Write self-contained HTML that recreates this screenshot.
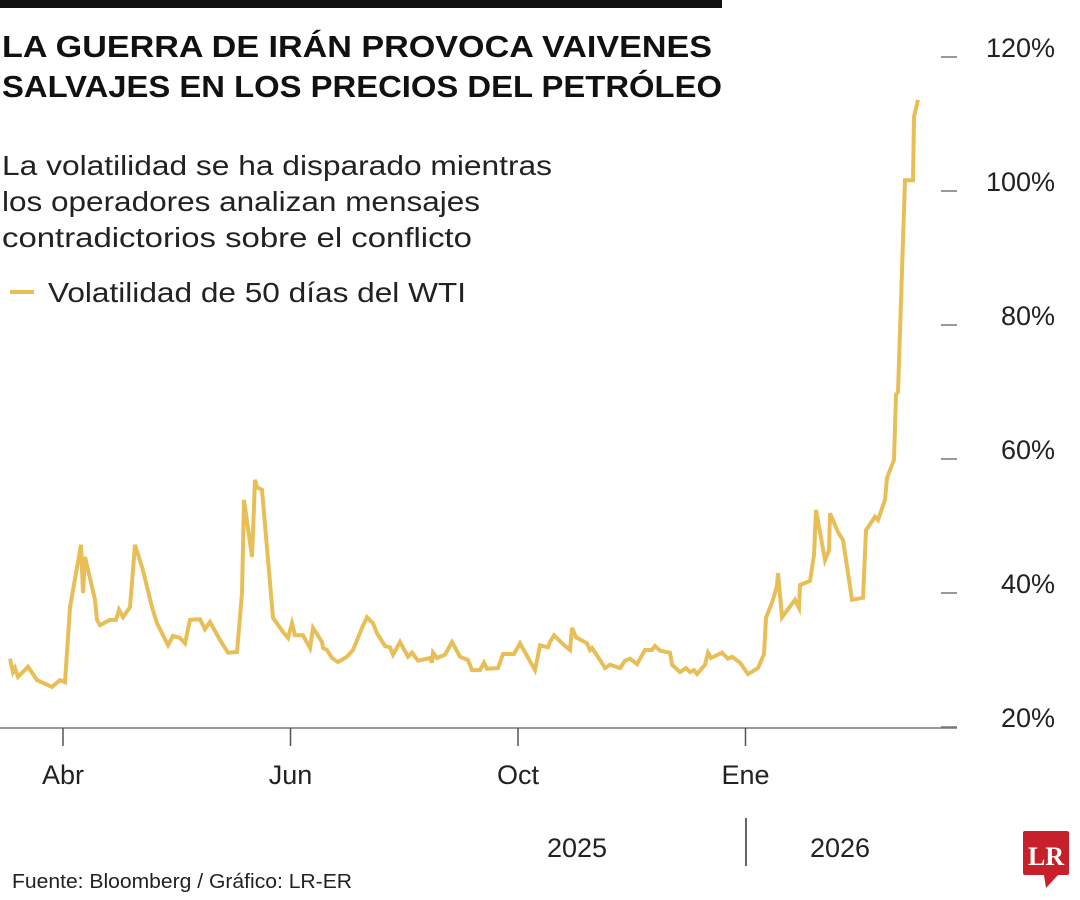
<!DOCTYPE html>
<html><head><meta charset="utf-8"><style>
html,body{margin:0;padding:0;background:#fff;}
svg{display:block;font-family:"Liberation Sans",sans-serif;}
</style></head><body>
<svg id="chart" width="1080" height="900" viewBox="0 0 1080 900" xmlns="http://www.w3.org/2000/svg">
<rect x="0" y="0" width="722" height="8" fill="#111"/>
<text font-weight="bold" font-size="31" fill="#111">
<tspan x="2" y="57" textLength="710" lengthAdjust="spacingAndGlyphs">LA GUERRA DE IRÁN PROVOCA VAIVENES</tspan>
<tspan x="2" y="97" textLength="720" lengthAdjust="spacingAndGlyphs">SALVAJES EN LOS PRECIOS DEL PETRÓLEO</tspan></text>
<text font-size="28" fill="#222">
<tspan x="2" y="175" textLength="550" lengthAdjust="spacingAndGlyphs">La volatilidad se ha disparado mientras</tspan>
<tspan x="2" y="211" textLength="478" lengthAdjust="spacingAndGlyphs">los operadores analizan mensajes</tspan>
<tspan x="2" y="247" textLength="470" lengthAdjust="spacingAndGlyphs">contradictorios sobre el conflicto</tspan></text>
<g>
<line x1="10" y1="292" x2="34" y2="292" stroke="#e8bf57" stroke-width="4"/>
<text x="48" y="302" font-size="28" fill="#222" textLength="418" lengthAdjust="spacingAndGlyphs">Volatilidad de 50 días del WTI</text></g>
<g id="yaxis"></g>
<g id="xaxis"></g>
<path id="line" fill="none" stroke="#e8bf57" stroke-width="4" stroke-linejoin="miter"/>
<g>
<text x="577" y="857" font-size="27" text-anchor="middle" fill="#222">2025</text>
<line x1="746" y1="818" x2="746" y2="866" stroke="#333" stroke-width="1.5"/>
<text x="840" y="857" font-size="27" text-anchor="middle" fill="#222">2026</text></g>
<text x="12" y="888" font-size="20" fill="#222" textLength="340" lengthAdjust="spacingAndGlyphs">Fuente: Bloomberg / Gráfico: LR-ER</text>
<g>
<rect x="1023" y="831" width="46" height="44" rx="2" fill="#c8202a"/>
<polygon points="1044,875 1058,875 1046,888" fill="#c8202a"/>
<text x="1046" y="865" font-family="Liberation Serif,serif" font-weight="bold" font-size="26" fill="#fff" text-anchor="middle">LR</text></g>
</svg>
<script>
const days=[-21.2,-20,-19.2,-18,-14,-10.4,-4.4,-1.2,0.8,2.8,7.2,8,8.8,12.8,13.6,14.8,18.8,21.2,22.4,24,26.8,28.8,32,35.6,37.6,42,44,46.8,48.8,50.8,54.8,56.8,58.8,62.8,66,69.6,71.6,72.4,75.6,76.8,77.6,79.6,84,88,90,91.6,92.8,96,98.8,100,103.6,104,105.6,107.6,110,113.6,116,119.6,121.6,124,125.6,128.8,130.8,132,134.8,138,139.6,142,146.8,147.6,148,149.6,152.8,155.6,158.8,162,163.6,166.8,168.4,169.6,174,176,180.4,182.8,188.8,190.8,194,194.8,196.4,200.8,202.8,203.6,205.2,209.6,210.8,211.6,214.8,216.8,218.8,222.8,224.8,226.8,229.6,232.8,235.6,236.8,238.8,242.8,243.6,246.8,249.2,250.8,252.4,253.6,256.8,258,259.2,263.6,266,267.6,270.8,274,278,280.4,281.2,284,285.6,286,287.6,292.8,294.4,294.8,298.8,300.4,301.2,304.8,306.4,306.8,310,312,314,315.6,320,321.2,324.8,326,328.8,329.6,332.4,333.2,334,336,336.8,340,340.4,342];
const vols=[28.7,26.7,27.3,26.0,27.5,25.5,24.5,25.5,25.2,36.4,45.7,38.5,43.9,37.5,34.5,33.7,34.5,34.5,36.0,34.9,36.4,45.7,41.9,36.4,34.0,30.7,32.1,31.8,31.0,34.5,34.6,33.1,34.2,31.5,29.6,29.7,38.5,52.4,43.9,55.4,54.3,53.9,34.8,32.7,31.8,34.0,32.2,32.2,30.3,33.3,31.2,30.3,30.0,28.8,28.2,29.0,30.0,33.3,34.9,34.0,32.5,30.6,30.4,29.3,31.2,29.0,29.6,28.4,28.8,28.1,29.6,28.8,29.3,31.2,29.0,28.5,27.0,27.0,28.1,27.2,27.3,29.4,29.4,31.0,27.0,30.7,30.4,31.2,32.2,30.6,30.0,33.3,31.9,31.0,30.0,30.3,28.5,27.3,27.8,27.3,28.4,28.7,27.9,30.0,30.0,30.6,29.9,29.6,27.8,26.7,27.3,26.7,27.0,26.4,27.8,29.6,28.8,29.6,28.7,29.0,28.1,26.4,27.3,29.4,34.8,37.5,39.6,41.5,34.9,37.5,36.3,39.7,40.3,44.2,50.9,43.4,44.9,50.4,47.6,46.4,41.5,37.5,37.8,47.9,49.9,49.4,52.4,55.7,58.4,68.1,68.5,91.2,100.1,100.1,109.6,112.1];
const yTicks=[20,40,60,80,100,120];
const yTickLabels=["20%","40%","60%","80%","100%","120%"];
const monthDays=[0,91,182,273];
const monthLabels=["Abr","Jun","Oct","Ene"];
const ns="http://www.w3.org/2000/svg";
const xs=d=>63+d*2.5;
const ys=v=>717-(v-20)*6.7;
const line=document.getElementById('line');
line.setAttribute('d',days.map((d,i)=>(i?'L':'M')+xs(d).toFixed(1)+','+ys(vols[i]).toFixed(1)).join(''));
const ya=document.getElementById('yaxis');
yTicks.forEach((t,i)=>{
 const l=document.createElementNS(ns,'line');
 
 
 l.setAttribute('x1',941);l.setAttribute('x2',957);
 l.setAttribute('y1',ys(t)+10);l.setAttribute('y2',ys(t)+10);
 l.setAttribute('stroke','#777');l.setAttribute('stroke-width','1.5');
 ya.appendChild(l);
 const tx=document.createElementNS(ns,'text');
 
 
 tx.setAttribute('x',1055);tx.setAttribute('y',ys(t)+10);
 tx.setAttribute('text-anchor','end');tx.setAttribute('font-size','27');tx.setAttribute('fill','#222');
 tx.textContent=yTickLabels[i];
 ya.appendChild(tx);
});
const xa=document.getElementById('xaxis');
const base=document.createElementNS(ns,'line');


base.setAttribute('x1',0);base.setAttribute('x2',957);base.setAttribute('y1',728);base.setAttribute('y2',728);
base.setAttribute('stroke','#777');base.setAttribute('stroke-width','1.5');
xa.appendChild(base);
monthDays.forEach((d,i)=>{
 const l=document.createElementNS(ns,'line');
 
 
 l.setAttribute('x1',xs(d));l.setAttribute('x2',xs(d));l.setAttribute('y1',728);l.setAttribute('y2',746);
 l.setAttribute('stroke','#555');l.setAttribute('stroke-width','1.5');
 xa.appendChild(l);
 const tx=document.createElementNS(ns,'text');
 
 
 tx.setAttribute('x',xs(d));tx.setAttribute('y',784);
 tx.setAttribute('text-anchor','middle');tx.setAttribute('font-size','27');tx.setAttribute('fill','#222');
 tx.textContent=monthLabels[i];
 xa.appendChild(tx);
});
</script>
</body></html>
